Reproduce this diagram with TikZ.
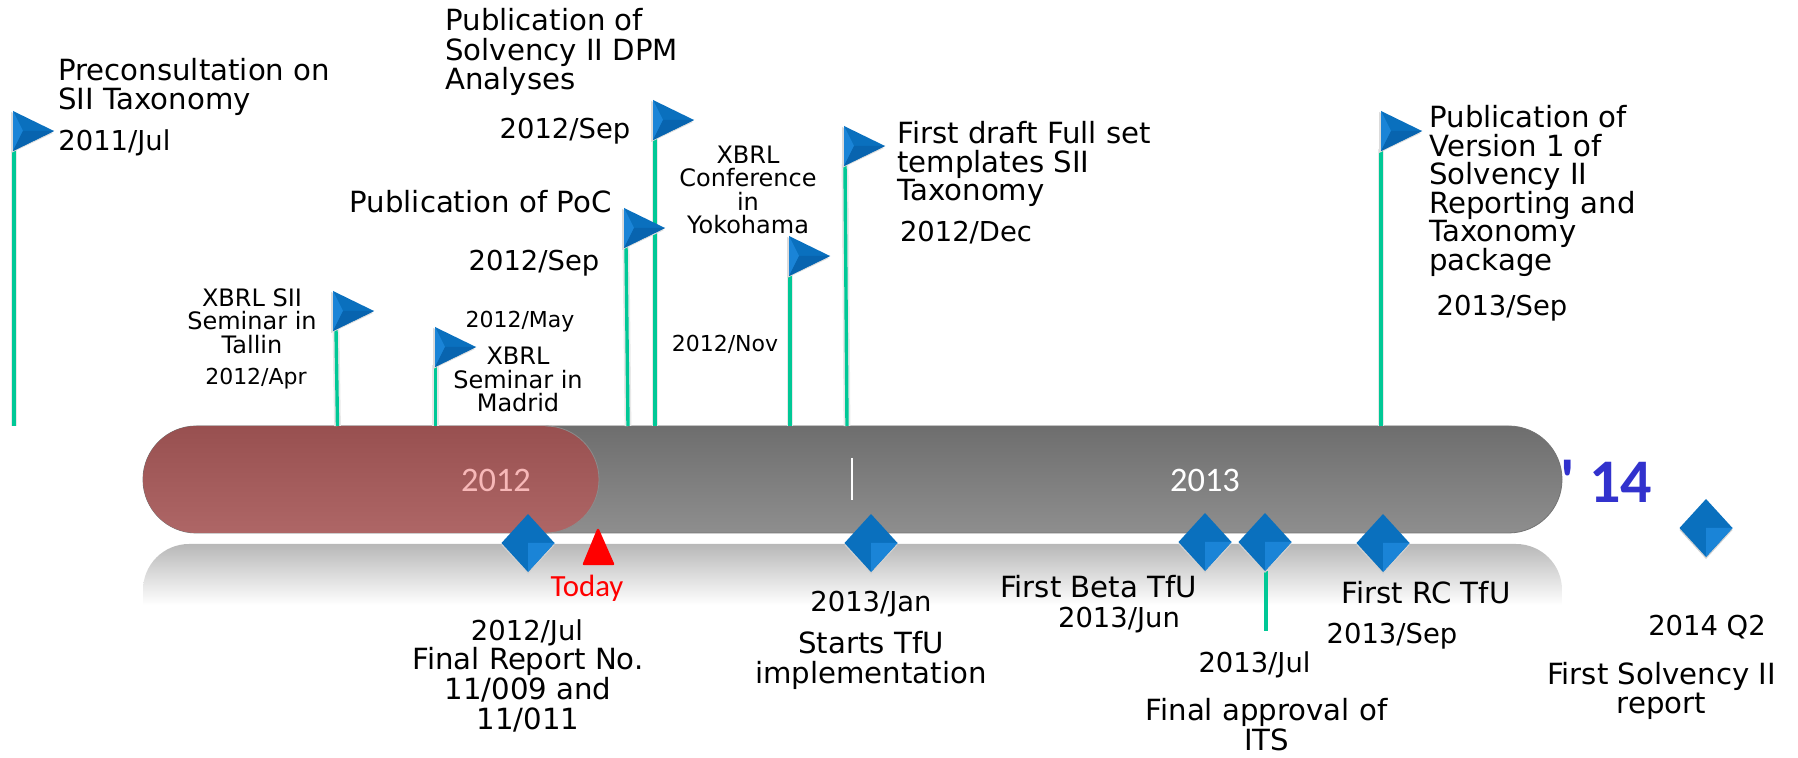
\documentclass[tikz,border=0pt]{standalone}
\usepackage{fontspec}
\setmainfont{DejaVu Sans}
\newfontfamily\calfont{Carlito}
\usetikzlibrary{shapes.geometric}
\definecolor{polegreen}{RGB}{0,200,150}
\definecolor{flagblue}{RGB}{10,112,190}
\definecolor{flaglight}{RGB}{26,132,215}
\definecolor{flagdark}{RGB}{8,100,175}
\definecolor{yearblue}{RGB}{50,50,205}
\definecolor{yearpink}{RGB}{247,184,184}
\definecolor{barlow}{RGB}{142,142,142}
\definecolor{bartop}{RGB}{110,110,110}
\definecolor{redlow}{RGB}{174,102,102}
\definecolor{redtop}{RGB}{152,80,80}
\tikzset{
	big/.style={font=\fontsize{14.6}{14.9}\selectfont,align=center,inner sep=0pt},
	bigl/.style={big,align=left,anchor=west},
	tight/.style={bigl,font=\fontsize{14.6}{14.3}\selectfont},
	date/.style={font=\fontsize{13.7}{15}\selectfont,align=center,inner sep=0pt},
	mid/.style={font=\fontsize{12}{11.8}\selectfont,align=center,inner sep=0pt},
	small/.style={font=\fontsize{11}{12}\selectfont,align=center,inner sep=0pt},
	year/.style={font=\calfont\fontsize{17.2}{19}\selectfont,inner sep=0pt},
	pole/.style={polegreen,line width=1.7pt},
	haze/.style={black!9,line width=3.4pt},
}
% one flag: #1 name, #2 left, #3 top, #4 pole top, #5 pole foot
\newcommand{\flagmark}[5]{
	\path (#2,#3) coordinate (#1a)
	(#2+41,#3+20) coordinate (#1t)
	(#2,#3+40) coordinate (#1b)
	(#2+10,#3+20) coordinate (#1c)
	(#4,#3+38) coordinate (#1p)
	(#5,426) coordinate (#1f);
	\draw[haze] (#1p)--(#1f);
	\draw[pole] (#1p)--(#1f);
	\fill[black!14] ([shift={(-2,1)}]#1a)--([shift={(-1,2)}]#1t)--([shift={(-2,2)}]#1b)--cycle;
	\fill[flagblue] (#1a)--(#1t)--(#1b)--cycle;
	\fill[flaglight] (#1a)--(#1c)--(#1b)--cycle;
	\fill[flagdark] (#1c)--(#1t)--(#1b)--cycle;
}
% one diamond: #1 name, #2 x, #3 y
\newcommand{\gemmark}[3]{
	\path (#2,#3) coordinate (#1c)
	(#2-26.5,#3) coordinate (#1w)
	(#2+26.5,#3) coordinate (#1e)
	(#2,#3-29) coordinate (#1n)
	(#2,#3+29) coordinate (#1s);
	\fill[black!18] ([shift={(0,2)}]#1w)--([shift={(0,2)}]#1n)--([shift={(0,2)}]#1e)--([shift={(0,2)}]#1s)--cycle;
	\fill[flagblue] (#1w)--(#1n)--(#1e)--(#1s)--cycle;
	\fill[flaglight] (#1c)--(#1e)--(#1s)--cycle;
}
\begin{document}
\begin{tikzpicture}[x=.5pt,y=-.5pt,line join=round]
	\useasboundingbox (0,0) rectangle (1798,758);
	% shadow under the bar
	\begin{scope}
		\clip (143,605) -- (143,590) arc (180:270:46) -- (1516,544) arc (270:360:46) -- (1562,605) -- cycle;
		\shade[top color=black!28,bottom color=white] (143,544) rectangle (1562,605);
	\end{scope}
	% bar
	\draw[black!55,line width=.4pt,top color=bartop,bottom color=barlow]
	(196.5,426) -- (1508.5,426) arc (-90:90:53.5) -- (196.5,533) arc (90:270:53.5) -- cycle;
	\shade[top color=redtop,bottom color=redlow]
	(196.5,426) -- (545.5,426) arc (-90:90:53.5) -- (196.5,533) arc (90:270:53.5) -- cycle;
	\draw[black!45,line width=.4pt] (545.5,426) arc (-90:90:53.5);
	\draw[white,line width=1.1pt] (852,458)--(852,500);
	\node[year,text=yearpink] (y12) at (496,480) {2012};
	\node[year,text=white] (y13) at (1205,480) {2013};
	\node[font=\calfont\bfseries\fontsize{31}{34}\selectfont,text=yearblue,inner sep=0pt] (y14) at (1606.5,481) {' 14};
	% flags
	\flagmark{fa}{13}{111}{14}{14}
	\flagmark{fb}{333}{291}{336}{337.5}
	\flagmark{fc}{435}{327}{435.5}{435.5}
	\flagmark{fe}{653}{100}{655}{655}
	\flagmark{fd}{624}{208}{626}{628}
	\flagmark{ff}{789}{236}{790}{790}
	\flagmark{fg}{844}{126}{845}{847}
	\flagmark{fh}{1381}{111}{1381}{1381}
	% diamonds
	\draw[pole] (1266,571)--(1266,631);
	\gemmark{da}{528}{543}
	\gemmark{db}{871}{543}
	\gemmark{dc}{1205}{542}
	\gemmark{dd}{1265}{542}
	\gemmark{de}{1383}{543}
	\gemmark{df}{1706}{528}
	% today
	\path (598,530) coordinate (ta) (584,564) coordinate (tb) (613,564) coordinate (tc);
	\draw[red,fill=red,line width=1.2pt] (ta)--(tb)--(tc)--cycle;
	\node[font=\calfont\fontsize{15.4}{17}\selectfont,text=red,inner sep=0pt] (today) at (587,588) {Today};
	% labels above the bar
	\node[bigl] (la) at (58,87) {Preconsultation on\\SII Taxonomy};
	\node[date,anchor=west] (da1) at (58,143) {2011/Jul};
	\node[bigl] (lb) at (445,52) {Publication of\\Solvency II DPM\\Analyses};
	\node[date] (db1) at (565,131) {2012/Sep};
	\node[big] (lc) at (480.5,202) {Publication of PoC};
	\node[date] (dc1) at (534,263) {2012/Sep};
	\node[mid] (ld) at (748,190) {XBRL\\Conference\\in\\Yokohama};
	\node[small] (dd1) at (725,344) {2012/Nov};
	\node[tight] (le) at (897,164) {First draft Full set\\templates SII\\Taxonomy};
	\node[date] (de1) at (966,233) {2012/Dec};
	\node[tight] (lf) at (1429,191) {Publication of\\Version 1 of\\Solvency II\\Reporting and\\Taxonomy\\package};
	\node[date] (df1) at (1502,308) {2013/Sep};
	\node[mid] (lg) at (252,321) {XBRL SII\\Seminar in\\Tallin};
	\node[small] (dg1) at (256,379) {2012/Apr};
	\node[small] (dh1) at (520,322) {2012/May};
	\node[mid] (lh) at (518,379.5) {XBRL\\Seminar in\\Madrid};
	% labels below the bar
	\node[date] (di1) at (527,633) {2012/Jul};
	\node[big] (li) at (528,690) {Final Report No.\\11/009 and\\11/011};
	\node[date] (dj1) at (871,604) {2013/Jan};
	\node[big] (lj) at (871,660.5) {Starts TfU\\implementation};
	\node[big] (lk) at (1098.5,587) {First Beta TfU};
	\node[date] (dk1) at (1119,620) {2013/Jun};
	\node[date] (dl1) at (1254.5,665) {2013/Jul};
	\node[big] (ll) at (1266.5,725) {Final approval of\\ITS};
	\node[big] (lm) at (1426,593) {First RC TfU};
	\node[date] (dm1) at (1392,636) {2013/Sep};
	\node[date] (dn1) at (1707,627) {2014 Q2};
	\node[big] (ln) at (1661.5,691) {First Solvency II\\report};
\end{tikzpicture}
\end{document}
